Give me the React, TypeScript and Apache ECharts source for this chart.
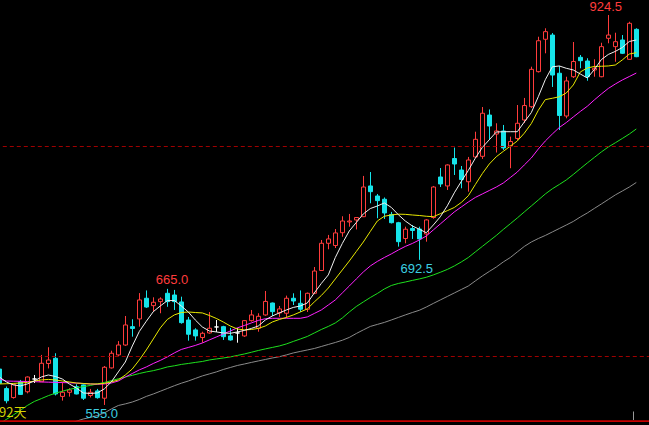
import React, { useEffect, useRef } from 'react';
import * as echarts from 'echarts';

// ---- data (prices) ----
const opens = [589, 570.5, 562, 577, 567.5, 579.6, 577, 594.3, 599.2, 563.1, 567, 572.3, 574, 564, 568.3, 561.4, 590.1, 602.4, 611.8, 629.2, 636.5, 656.1, 649.1, 652.9, 660.8, 659.2, 652.6, 635.5, 626.1, 618.9, 623.2, 628.9, 629.2, 620.4, 623.2, 620.4, 634.9, 627.7, 640.3, 651.6, 642.2, 641.9, 656.1, 651.3, 645.7, 660.8, 682.4, 708.2, 706.1, 718.2, 728.4, 730.3, 733.4, 762.5, 753, 749.9, 735.5, 727.7, 712.7, 722.2, 721.7, 717, 732.6, 771, 762.5, 788.5, 777.6, 766.5, 790, 790.6, 829.7, 811.7, 814.6, 800.4, 807.5, 825, 837.6, 870.8, 901.5, 905.5, 869.3, 828.8, 866, 884.4, 880.9, 872.4, 866, 902.4, 894.5, 900.8, 882.5, 910.9];
const closes = [575.5, 559, 574.5, 565, 581.5, 579.6, 594.5, 597.6, 565.4, 567, 569.2, 565.4, 561.4, 567, 561.9, 590.7, 604, 611.8, 630.8, 627.5, 654.5, 647.8, 652.3, 655.4, 652.9, 652.9, 633, 622, 620.4, 622.9, 627.7, 628.9, 619.7, 616.6, 623.2, 634.9, 640.3, 639, 653.1, 643.4, 646, 656.1, 653.5, 645.7, 660.8, 681.9, 708.2, 712.3, 718, 729.3, 729.3, 732.6, 761.5, 757.1, 748.6, 736.9, 727.7, 709.7, 721.5, 720.3, 712.3, 730.3, 761.5, 764.4, 782.4, 783.3, 768.6, 787.1, 806.7, 831.4, 819.3, 814.6, 798.5, 804.6, 821.9, 838.7, 873, 900.1, 908.7, 867.6, 829.3, 862, 880.4, 881.2, 866, 874, 894.5, 905.5, 899.2, 888.2, 916.6, 885];
const lows = [573, 556.5, 561, 564.5, 566, 575.8, 577, 589.6, 564, 559.1, 562.9, 565, 559.7, 562.1, 561, 555, 589.5, 601.5, 611, 619.7, 629.2, 647, 643.4, 641.9, 648, 645, 632, 615.9, 615.9, 614, 622.5, 624.2, 616.6, 616, 614, 619.5, 634, 624.4, 639.5, 639.3, 638.4, 637.7, 649.7, 643.1, 643.1, 660, 682, 702.5, 703.7, 714.4, 723.9, 721.3, 733, 746.1, 731.9, 731.2, 727, 705, 708.2, 712.3, 692.5, 709.7, 731.5, 761.5, 758.7, 772.9, 760.3, 757.1, 789, 788.1, 806.1, 794.2, 796.6, 779.3, 806, 822.2, 836.4, 870, 888.2, 856.3, 815.5, 826.6, 864.8, 874, 862.2, 866, 865.5, 897.7, 880.2, 887.5, 882, 884.5];
const highs = [591, 572.5, 575, 578.7, 582, 583.4, 602.4, 609.7, 604, 576.5, 570.8, 574.6, 574.5, 570.2, 570.2, 591.9, 606.4, 615.5, 639.3, 636.2, 661, 663.5, 657, 657, 665, 664, 657.6, 638.4, 627.7, 624.4, 643.1, 635.5, 630, 628, 628, 635.5, 645, 641.9, 663, 652, 648.8, 658.6, 660.8, 663.5, 661.5, 685.7, 711.3, 716.1, 721.7, 733.8, 736, 733, 772, 775.7, 754.9, 751.6, 737.9, 728.5, 723.9, 725.5, 723.9, 731, 762.5, 779.5, 783, 798.9, 781.4, 790, 813.9, 837.3, 835, 821.9, 820.3, 809.2, 839.2, 845.9, 875.5, 903.9, 911.9, 907.4, 876.2, 866, 898.9, 886.6, 883.5, 882.5, 898.2, 924.5, 907.7, 905.5, 918.1, 911.9];

const ma5 = [581.5, 576.8, 574.0, 573.0, 574.9, 577.7, 581.5, 583.4, 582.0, 579.6, 574.9, 571.1, 566.4, 565.9, 566.4, 570.2, 576.8, 586.3, 595.7, 610.9, 624.6, 634.3, 643.4, 648.8, 653.8, 654.0, 648.8, 643.1, 635.5, 628.9, 625.1, 624.2, 623.2, 622.9, 624.2, 625.6, 627.5, 629.8, 635.5, 639.3, 642.2, 645.0, 647.4, 648.8, 651.6, 661.1, 670.1, 678.2, 694.7, 708.0, 719.9, 727.9, 736.0, 741.1, 743.5, 746.4, 742.2, 735.3, 729.3, 724.6, 721.5, 718.2, 725.5, 733.3, 743.7, 756.0, 766.8, 777.2, 788.8, 799.0, 806.3, 813.6, 813.9, 813.9, 813.9, 823.1, 832.0, 847.1, 863.2, 875.4, 876.2, 874.0, 872.4, 868.6, 864.8, 872.7, 882.2, 887.1, 890.0, 893.7, 899.4, 900.8];
const ma10 = [574.9, 575.1, 575.4, 575.8, 576.3, 577.7, 578.7, 579.2, 578.7, 577.7, 576.8, 575.8, 575.4, 574.9, 574.9, 575.4, 576.8, 578.7, 583.4, 589.1, 597.6, 607.1, 617.5, 628.0, 636.0, 640.3, 642.6, 643.1, 642.6, 642.2, 639.8, 637.0, 633.6, 629.8, 627.0, 626.1, 626.5, 627.5, 629.8, 633.6, 636.0, 637.9, 640.3, 643.1, 646.0, 652.6, 658.7, 665.8, 674.4, 682.9, 691.4, 700.4, 709.4, 719.4, 729.3, 733.8, 735.0, 735.8, 735.6, 735.0, 734.5, 733.8, 733.4, 736.2, 739.1, 742.1, 746.9, 753.2, 763.8, 774.2, 783.3, 790.2, 795.3, 800.2, 805.1, 812.5, 821.6, 834.2, 844.3, 845.6, 847.0, 850.6, 858.2, 870.5, 874.3, 875.7, 875.9, 876.2, 877.1, 881.9, 887.5, 888.8];
const ma20 = [579.6, 577.7, 577.5, 577.4, 577.2, 577.1, 576.8, 576.6, 576.4, 576.2, 576.0, 575.7, 575.3, 574.9, 574.6, 574.9, 575.8, 577.7, 581.5, 584.8, 588.2, 591.0, 594.3, 597.2, 600.5, 604.3, 607.6, 609.5, 611.4, 613.7, 616.6, 619.4, 622.3, 625.1, 628.0, 630.3, 632.7, 635.1, 636.7, 637.1, 637.1, 637.1, 637.1, 637.1, 638.4, 641.7, 645.0, 649.7, 654.5, 661.1, 667.7, 674.4, 681.0, 686.7, 691.0, 694.7, 698.1, 701.8, 705.2, 708.0, 711.3, 715.1, 720.8, 726.5, 732.2, 737.9, 742.6, 747.3, 751.6, 754.9, 758.2, 761.5, 765.3, 770.5, 775.7, 782.4, 789.0, 797.5, 805.1, 811.7, 817.9, 822.6, 827.9, 833.1, 838.0, 844.0, 849.6, 854.9, 859.1, 862.9, 866.2, 869.5];
const ma40 = [537.0, 541.3, 545.5, 549.8, 554.5, 558.3, 561.0, 563.8, 566.1, 568.0, 569.8, 571.1, 572.4, 573.5, 574.9, 576.3, 578.0, 579.8, 581.5, 583.1, 584.8, 586.3, 587.5, 589.1, 591.0, 592.1, 593.4, 594.3, 595.3, 596.2, 597.6, 598.6, 599.5, 600.5, 601.9, 603.3, 604.9, 606.6, 608.1, 609.5, 610.9, 612.8, 615.2, 617.5, 619.9, 623.2, 626.5, 629.4, 632.7, 637.4, 643.1, 648.3, 652.6, 656.8, 660.6, 664.9, 668.2, 670.1, 671.5, 673.0, 674.4, 676.0, 678.2, 680.7, 683.4, 686.7, 690.5, 694.7, 700.0, 705.2, 710.4, 715.6, 721.3, 726.7, 732.2, 737.9, 743.5, 749.2, 754.9, 759.8, 763.9, 768.2, 773.4, 778.9, 784.3, 789.5, 794.7, 799.4, 803.4, 807.5, 811.7, 816.5];
const ma60 = [null, null, null, null, null, null, null, null, null, null, 537.0, 539.6, 541.7, 543.2, 544.9, 547.4, 551.2, 554.5, 556.0, 557.8, 560.2, 563.1, 565.4, 568.0, 570.6, 573.2, 575.6, 577.7, 580.1, 582.5, 584.4, 586.3, 588.6, 590.5, 592.4, 593.8, 595.3, 596.7, 598.1, 599.5, 600.7, 602.4, 604.3, 605.7, 607.1, 608.5, 610.4, 612.3, 614.2, 616.3, 619.0, 622.7, 626.1, 629.4, 631.3, 633.2, 635.5, 637.9, 640.3, 642.6, 644.7, 647.8, 651.2, 654.5, 657.8, 661.1, 664.4, 667.7, 672.5, 677.2, 681.5, 685.7, 690.5, 694.7, 700.0, 705.2, 709.4, 712.7, 715.6, 718.9, 722.2, 725.5, 728.9, 733.1, 736.9, 741.2, 745.4, 749.7, 754.0, 757.7, 761.5, 765.8];

const Y_MIN = 539.8;
const Y_MAX = 938.7;
const guideLevels = [601, 800];
const dayLabels = opens.map((_, i) => 'D' + (i + 1));
const axisCategories = [...dayLabels, 'pad1', 'pad2'];
const periodText = '92天';

// extremes that carry a price label
const extremes: { index: number; kind: 'high' | 'low' }[] = [
  { index: 87, kind: 'high' },
  { index: 24, kind: 'high' },
  { index: 60, kind: 'low' },
  { index: 15, kind: 'low' },
];

const RED = '#ff3c3c';
const CYAN = '#16e4ea';
const LABEL_CYAN = '#3ccfe2';

function buildOption() {
  const candleData = opens.map((o, i) => [o, closes[i], lows[i], highs[i]]);
  const offsets: Record<number, [number, number]> = {
    87: [-2.5, -8.3],
    24: [4.7, -9],
    60: [-2.5, 9],
    15: [-2.6, 8.3],
  };
  const markData = extremes.map((e) => {
    const v = e.kind === 'high' ? highs[e.index] : lows[e.index];
    return {
      name: v.toFixed(1),
      coord: [dayLabels[e.index], v],
      label: { color: e.kind === 'high' ? RED : LABEL_CYAN, offset: offsets[e.index] },
    };
  });
  const line = (data: (number | null)[], color: string) => ({
    type: 'line',
    data,
    symbol: 'none',
    showSymbol: false,
    silent: true,
    connectNulls: false,
    lineStyle: { color, width: 1 },
    itemStyle: { color },
    z: 3,
  });
  return {
    animation: false,
    backgroundColor: '#000000',
    grid: { left: -4.2, top: 0, width: 658, height: 421, containLabel: false, outerBoundsMode: 'none' },
    xAxis: {
      type: 'category',
      data: axisCategories,
      boundaryGap: true,
      axisLine: { show: true, onZero: false, lineStyle: { color: '#c80000', width: 1 } },
      axisTick: { show: false },
      axisLabel: { show: false },
      splitLine: { show: false },
    },
    yAxis: {
      type: 'value',
      min: Y_MIN,
      max: Y_MAX,
      axisLine: { show: false },
      axisTick: { show: false },
      axisLabel: { show: false },
      splitLine: { show: false },
    },
    series: [
      {
        type: 'candlestick',
        data: candleData,
        barWidth: 5,
        silent: true,
        itemStyle: {
          color: '#000000',
          color0: CYAN,
          borderColor: RED,
          borderColor0: CYAN,
          borderColorDoji: '#ffffff',
          borderWidth: 1,
        },
        markLine: {
          silent: true,
          symbol: ['none', 'none'],
          label: { show: false },
          lineStyle: { color: '#a00000', type: [4, 3], width: 1 },
          data: guideLevels.map((v) => ({ yAxis: v })),
        },
        markPoint: {
          silent: true,
          symbol: 'rect',
          symbolSize: 1,
          itemStyle: { color: 'rgba(0,0,0,0)' },
          label: {
            show: true,
            position: 'inside',
            fontSize: 13,
            fontFamily: 'Liberation Sans, Arial, sans-serif',
            formatter: '{b}',
          },
          data: markData,
        },
        z: 2,
      },
      {
        ...line(ma60, '#8a8a8a'),
        markLine: {
          silent: true,
          symbol: ['none', 'none'],
          label: { show: false },
          lineStyle: { color: '#c80000', type: 'solid', width: 1.5 },
          data: [{ yAxis: Y_MIN }],
        },
      },
      line(ma40, '#1ee01e'),
      line(ma20, '#ff22ff'),
      line(ma10, '#e8e800'),
      line(ma5, '#f0f0f0'),
    ],
    graphic: [
      {
        type: 'text',
        x: -1,
        y: 405,
        silent: true,
        style: { text: periodText, fill: '#d6d200', font: '13px "Noto Sans CJK SC", sans-serif' },
        z: 10,
      },
      {
        type: 'line',
        silent: true,
        shape: { x1: 633.5, y1: 411.5, x2: 633.5, y2: 420 },
        style: { stroke: '#9a9a9a', lineWidth: 1 },
      },
    ],
  };
}

export default function App() {
  const ref = useRef<HTMLDivElement>(null);
  useEffect(() => {
    document.body.style.margin = '0';
    document.body.style.background = '#000';
    const el = ref.current as HTMLDivElement;
    const chart = echarts.init(el, null, { renderer: 'svg' });
    chart.setOption(buildOption() as any);
    return () => chart.dispose();
  }, []);
  return (
    <div style={{ position: 'fixed', left: 0, top: 0, width: 649, height: 425, background: '#000', overflow: 'hidden' }}>
      <div ref={ref} style={{ width: 649, height: 425 }} />
    </div>
  );
}
